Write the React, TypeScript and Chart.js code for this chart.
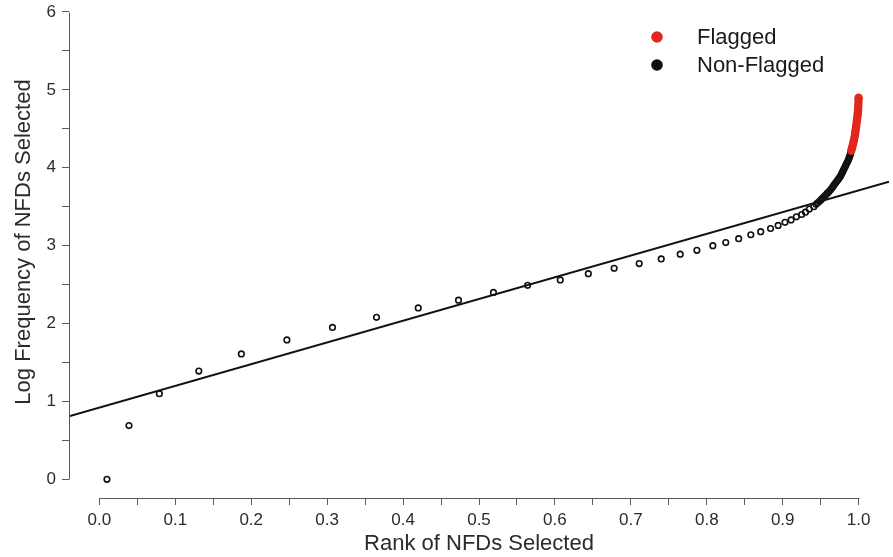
import React, { useEffect, useRef } from "react";
import { Chart, registerables } from "chart.js";

Chart.register(...registerables);

// ---- data ----
const nonFlaggedRank = [
  0.010, 0.039, 0.079, 0.131, 0.187, 0.247, 0.307, 0.365, 0.420, 0.473,
  0.519, 0.564, 0.607, 0.644, 0.678, 0.711, 0.740, 0.765, 0.787, 0.808,
  0.825, 0.842, 0.858, 0.871, 0.884, 0.894, 0.903, 0.911, 0.918, 0.925,
  0.930, 0.935, 0.941,
  0.9440, 0.9460, 0.9485, 0.9505, 0.9525, 0.9545, 0.9565, 0.9585, 0.9605, 0.9625,
  0.9640, 0.9655, 0.9670, 0.9685, 0.9700, 0.9715, 0.9730, 0.9745, 0.9760, 0.9770,
  0.9780, 0.9790, 0.9800, 0.9810, 0.9820, 0.9830, 0.9840, 0.9850, 0.9860, 0.9868,
  0.9876, 0.9884, 0.9890, 0.9896,
];
const nonFlaggedLogFreq = [
  0, 0.69, 1.10, 1.39, 1.61, 1.79, 1.95, 2.08, 2.20, 2.30,
  2.40, 2.49, 2.56, 2.64, 2.71, 2.77, 2.83, 2.89, 2.94, 3.00,
  3.04, 3.09, 3.14, 3.18, 3.22, 3.26, 3.30, 3.33, 3.37, 3.40,
  3.43, 3.47, 3.50,
  3.53, 3.55, 3.57, 3.59, 3.61, 3.63, 3.65, 3.67, 3.69, 3.71,
  3.73, 3.75, 3.77, 3.79, 3.81, 3.83, 3.85, 3.87, 3.89, 3.91,
  3.93, 3.95, 3.97, 3.99, 4.01, 4.03, 4.05, 4.07, 4.09, 4.11,
  4.13, 4.15, 4.17, 4.19,
];
const flaggedRank = [
  0.9903, 0.9912, 0.9920, 0.9928, 0.9935, 0.9942, 0.9948, 0.9953, 0.9957, 0.9961,
  0.9966, 0.9970, 0.9974, 0.9978, 0.9982, 0.9986, 0.9989, 0.9992, 0.9994, 0.9996,
  0.9998, 0.9999, 1.0,
];
const flaggedLogFreq = [
  4.22, 4.25, 4.28, 4.31, 4.34, 4.37, 4.40, 4.43, 4.46, 4.49,
  4.52, 4.55, 4.58, 4.61, 4.64, 4.67, 4.70, 4.73, 4.76, 4.80,
  4.84, 4.88, 4.90,
];
// fitted straight line (abline)
const fitIntercept = 0.92;
const fitSlope = 2.79;

const xTickValues = [0, 0.05, 0.1, 0.15, 0.2, 0.25, 0.3, 0.35, 0.4, 0.45, 0.5, 0.55, 0.6, 0.65, 0.7, 0.75, 0.8, 0.85, 0.9, 0.95, 1.0];
const xTickLabels = ["0.0", "", "0.1", "", "0.2", "", "0.3", "", "0.4", "", "0.5", "", "0.6", "", "0.7", "", "0.8", "", "0.9", "", "1.0"];
const yTickValues = [0, 0.5, 1, 1.5, 2, 2.5, 3, 3.5, 4, 4.5, 5, 5.5, 6];
const yTickLabels = ["0", "", "1", "", "2", "", "3", "", "4", "", "5", "", "6"];
const legendLabels = ["Flagged", "Non-Flagged"];
const xTitle = "Rank of NFDs Selected";
const yTitle = "Log Frequency of NFDs Selected";

// ---- styling ----
const X_MIN = -0.04;
const X_MAX = 1.04;
const Y_MIN = -0.24;
const Y_MAX = 6.154;
const FONT = "'Liberation Sans', Arial, Helvetica, sans-serif";
const AXIS_COLOR = "#5a5a5a";
const TEXT_COLOR = "#2b2b2b";
const RED = "rgb(226, 40, 30)";
const BLACK = "#111111";

const rAxesAndLegend = {
  id: "rAxesAndLegend",
  afterDraw(chart: any) {
    const { ctx, chartArea, scales } = chart;
    const x = scales.x;
    const y = scales.y;
    ctx.save();
    ctx.strokeStyle = AXIS_COLOR;
    ctx.lineWidth = 1;
    ctx.beginPath();
    const yb = Math.round(chartArea.bottom) + 0.5;
    ctx.moveTo(Math.round(x.getPixelForValue(xTickValues[0])) + 0.5, yb);
    ctx.lineTo(Math.round(x.getPixelForValue(xTickValues[xTickValues.length - 1])) + 0.5, yb);
    const xl = Math.round(chartArea.left) + 0.5;
    ctx.moveTo(xl, Math.round(y.getPixelForValue(yTickValues[0])) + 0.5);
    ctx.lineTo(xl, Math.round(y.getPixelForValue(yTickValues[yTickValues.length - 1])) + 0.5);
    ctx.stroke();

    // y-axis title (centred on the R plot region, which extends above the canvas)
    ctx.save();
    ctx.translate(24, 242);
    ctx.rotate(-Math.PI / 2);
    ctx.font = `22px ${FONT}`;
    ctx.fillStyle = TEXT_COLOR;
    ctx.textAlign = "center";
    ctx.textBaseline = "middle";
    ctx.fillText(yTitle, 0, 0);
    ctx.restore();

    // legend
    const colors = [RED, BLACK];
    const lx = 657;
    const ly = 37;
    const gap = 28;
    ctx.font = `22px ${FONT}`;
    ctx.textBaseline = "middle";
    ctx.textAlign = "left";
    legendLabels.forEach((lab, i) => {
      ctx.fillStyle = colors[i];
      ctx.beginPath();
      ctx.arc(lx, ly + i * gap, 5.8, 0, Math.PI * 2);
      ctx.fill();
      ctx.fillStyle = "#1a1a1a";
      ctx.fillText(lab, 697, ly + i * gap + 1);
    });
    ctx.restore();
  },
};

export default function App() {
  const canvasRef = useRef<HTMLCanvasElement | null>(null);

  useEffect(() => {
    const canvas = canvasRef.current;
    if (!canvas) return;
    const nonFlagged = nonFlaggedRank.map((r, i) => ({ x: r, y: nonFlaggedLogFreq[i] }));
    const flagged = flaggedRank.map((r, i) => ({ x: r, y: flaggedLogFreq[i] }));
    const fitLine = [
      { x: X_MIN, y: fitIntercept + fitSlope * X_MIN },
      { x: X_MAX, y: fitIntercept + fitSlope * X_MAX },
    ];

    const chart = new Chart(canvas, {
      type: "scatter",
      data: {
        datasets: [
          {
            type: "line",
            label: "fit",
            data: fitLine,
            borderColor: BLACK,
            borderWidth: 2,
            pointRadius: 0,
            fill: false,
          } as any,
          {
            label: "Flagged",
            data: flagged,
            pointRadius: 3.6,
            pointBorderWidth: 1.2,
            pointBorderColor: RED,
            pointBackgroundColor: RED,
          },
          {
            label: "Non-Flagged",
            data: nonFlagged,
            pointRadius: 2.8,
            pointBorderWidth: 1.6,
            pointBorderColor: BLACK,
            pointBackgroundColor: "rgba(0,0,0,0)",
          },
        ],
      },
      options: {
        responsive: false,
        animation: false,
        devicePixelRatio: 1,
        layout: { autoPadding: false, padding: { top: 0, left: 0, right: 4, bottom: 0 } },
        plugins: {
          legend: { display: false },
          tooltip: { enabled: false },
        },
        scales: {
          x: {
            type: "linear",
            min: X_MIN,
            max: X_MAX,
            afterBuildTicks: (s: any) => {
              s.ticks = xTickValues.map((v) => ({ value: v }));
            },
            afterFit: (s: any) => {
              s.height = 59;
              s.paddingLeft = 0;
              s.paddingRight = 0;
            },
            ticks: {
              autoSkip: false,
              maxRotation: 0,
              minRotation: 0,
              padding: 5,
              color: TEXT_COLOR,
              font: { family: FONT, size: 17 },
              callback: (_v: any, i: number) => xTickLabels[i],
            },
            grid: {
              display: true,
              drawOnChartArea: false,
              drawTicks: true,
              tickLength: 7,
              color: AXIS_COLOR,
              lineWidth: 1,
            },
            border: { display: false },
            title: {
              display: true,
              text: xTitle,
              color: TEXT_COLOR,
              font: { family: FONT, size: 22 },
              padding: { top: 0, bottom: 0 },
            },
          },
          y: {
            type: "linear",
            min: Y_MIN,
            max: Y_MAX,
            afterBuildTicks: (s: any) => {
              s.ticks = yTickValues.map((v) => ({ value: v }));
            },
            afterFit: (s: any) => {
              s.width = 69;
              s.paddingTop = 0;
              s.paddingBottom = 0;
            },
            ticks: {
              autoSkip: false,
              padding: 6,
              color: TEXT_COLOR,
              font: { family: FONT, size: 17 },
              callback: (_v: any, i: number) => yTickLabels[i],
            },
            grid: {
              display: true,
              drawOnChartArea: false,
              drawTicks: true,
              tickLength: 7,
              color: AXIS_COLOR,
              lineWidth: 1,
            },
            border: { display: false },
            title: { display: false, text: yTitle },
          },
        },
      },
      plugins: [rAxesAndLegend],
    } as any);

    return () => chart.destroy();
  }, []);

  return (
    <div style={{ position: "absolute", left: 0, top: 0, width: 893, height: 557, background: "#fff" }}>
      <canvas ref={canvasRef} width={893} height={557} style={{ display: "block" }} />
    </div>
  );
}
